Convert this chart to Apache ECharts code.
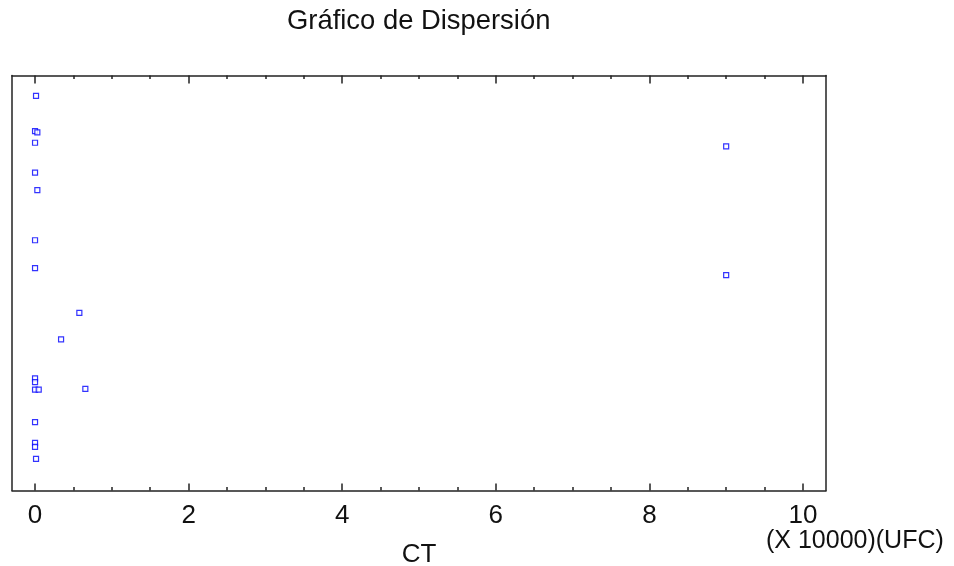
<!DOCTYPE html>
<html>
<head>
<meta charset="utf-8">
<script src="https://cdn.jsdelivr.net/npm/echarts@6/dist/echarts.min.js"></script>
<style>
  html, body { margin: 0; padding: 0; background: #fff; }
  #chart { width: 954px; height: 566px; }
</style>
</head>
<body>
<div id="chart"></div>
<script>
// CT en unidades de (X 10000) UFC
var ctValues = [0.013, 0, 0.03, 0, 0, 0.03, 0, 0, 0.577, 0.339, 0, 0, 0, 0.048, 0.655, 0, 0, 0, 0.013, 9.0, 9.0];
// posicion vertical (dispersion) de cada punto
var jitterValues = [95.1, 86.6, 86.3, 83.8, 76.6, 72.4, 60.3, 53.6, 42.8, 36.4, 27.0, 26.1, 24.3, 24.3, 24.5, 16.5, 11.5, 10.5, 7.6, 82.9, 51.9];
var majorTicks = [0, 2, 4, 6, 8, 10];
var minorTicks = [0.5, 1, 1.5, 2.5, 3, 3.5, 4.5, 5, 5.5, 6.5, 7, 7.5, 8.5, 9, 9.5];

var points = [];
for (var i = 0; i < ctValues.length; i++) {
    points.push([ctValues[i], jitterValues[i]]);
}

var font = 'Liberation Sans, Arial, sans-serif';
var lineColor = '#222';

function xAxisDef(pos, ticks, len, withLabels, withLine) {
    return {
        type: 'value',
        position: pos,
        offset: 0,
        min: -0.3,
        max: 10.3,
        splitLine: { show: false },
        axisLine: { show: withLine, onZero: false, lineStyle: { color: lineColor, width: 1.5 } },
        axisTick: { show: true, inside: true, length: len, customValues: ticks, lineStyle: { color: lineColor, width: 1.5 } },
        axisLabel: withLabels ? {
            show: true,
            customValues: ticks,
            margin: 12,
            color: '#111',
            fontSize: 26,
            fontFamily: font
        } : { show: false }
    };
}

var myChart = echarts.init(document.getElementById('chart'));
var option = {
    backgroundColor: '#fff',
    animation: false,
    title: [{
        text: 'Gráfico de Dispersión',
        left: 282,
        top: 3,
        textStyle: { color: '#111', fontSize: 27.4, fontWeight: 'normal', fontFamily: font }
    }, {
        text: '(X 10000)(UFC)',
        left: 761,
        top: 524,
        textStyle: { color: '#111', fontSize: 25, fontWeight: 'normal', fontFamily: font }
    }],
    grid: {
        left: 12,
        right: 128,
        top: 75.5,
        bottom: 75.5,
        containLabel: false,
        outerBoundsMode: 'none'
    },
    xAxis: [
        Object.assign(xAxisDef('bottom', majorTicks, 7, true, true), {
            name: 'CT',
            nameLocation: 'middle',
            nameGap: 51,
            nameTextStyle: { color: '#111', fontSize: 26, fontFamily: font }
        }),
        xAxisDef('bottom', minorTicks, 3.5, false, false),
        xAxisDef('top', majorTicks, 8, false, true),
        xAxisDef('top', minorTicks, 3.5, false, false)
    ],
    yAxis: [{
        type: 'value',
        position: 'left',
        min: 0,
        max: 100,
        splitLine: { show: false },
        axisTick: { show: false },
        axisLabel: { show: false },
        axisLine: { show: true, onZero: false, lineStyle: { color: lineColor, width: 1.5 } }
    }, {
        type: 'value',
        position: 'right',
        min: 0,
        max: 100,
        splitLine: { show: false },
        axisTick: { show: false },
        axisLabel: { show: false },
        axisLine: { show: true, onZero: false, lineStyle: { color: lineColor, width: 1.5 } }
    }],
    series: [{
        type: 'scatter',
        xAxisIndex: 0,
        yAxisIndex: 0,
        symbol: 'rect',
        symbolSize: 5,
        itemStyle: {
            color: '#fff',
            borderColor: '#0000ff',
            borderWidth: 1.2
        },
        data: points
    }]
};

myChart.setOption(option);
</script>
</body>
</html>
